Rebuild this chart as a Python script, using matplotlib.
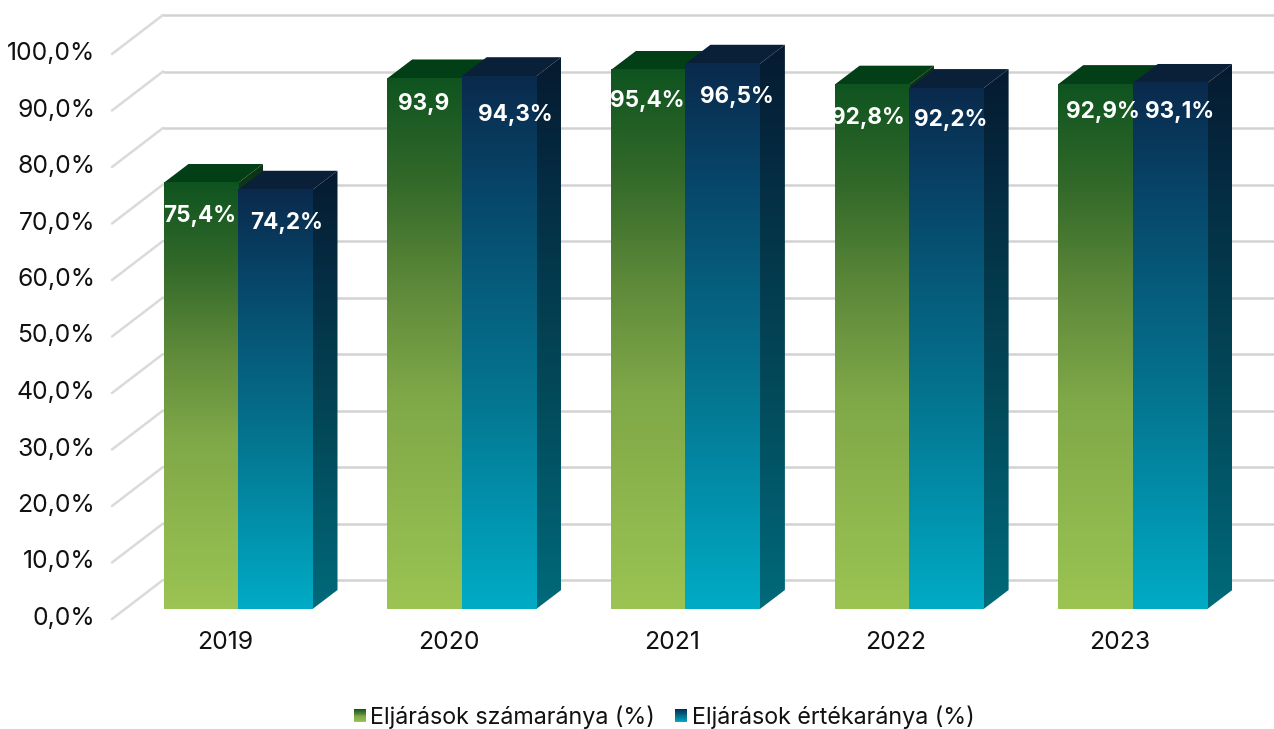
import matplotlib
matplotlib.use("Agg")
import matplotlib.pyplot as plt
import numpy as np
from matplotlib.colors import LinearSegmentedColormap
from matplotlib.patches import Polygon, Rectangle
from matplotlib.legend_handler import HandlerBase
from matplotlib.transforms import ScaledTranslation

years = ["2019", "2020", "2021", "2022", "2023"]
szamarany = [75.4, 93.9, 95.4, 92.8, 92.9]
ertekarany = [74.2, 94.3, 96.5, 92.2, 93.1]
szam_labels = ["75,4%", "93,9", "95,4%", "92,8%", "92,9%"]
ertek_labels = ["74,2%", "94,3%", "96,5%", "92,2%", "93,1%"]
y_ticks = [0, 10, 20, 30, 40, 50, 60, 70, 80, 90, 100]
y_ticklabels = ["0,0%", "10,0%", "20,0%", "30,0%", "40,0%", "50,0%",
                "60,0%", "70,0%", "80,0%", "90,0%", "100,0%"]
series_names = ["Eljárások számaránya (%)", "Eljárások értékaránya (%)"]

# label offsets from bar-top centre, in pixels (x right, y down)
szam_off = [(-1, 33), (-1, 26), (-1, 31), (-4, 33), (7, 28)]
ertek_off = [(11, 33), (16, 39), (14, 33), (4, 32), (10, 29)]

plt.rcParams["font.family"] = ["Inter", "DejaVu Sans"]
W, H, DPI = 1274, 729, 100
PX = 72 / DPI

# scales: pixel geometry of the plot
Y0, UNIT = 609, 5.65        # pixel row of value 0 (front plane), px per value
X0, CAT = 238, 223.7        # pixel col of first category, px per category
L, B = 112, 619             # axes left / bottom in pixels
BAR_W = 74.5 / CAT
BAR_DX, BAR_DY = 25 / CAT, 19 / UNIT
WALL_DX, WALL_DY = 51 / CAT, 39 / UNIT

fig = plt.figure(figsize=(W / DPI, H / DPI), dpi=DPI, facecolor="white")
ax = fig.add_axes([L / W, (H - B) / H, (W - L) / W, B / H])
ax.set_xlim((L - X0) / CAT, (W - X0) / CAT)
ax.set_ylim((Y0 - B) / UNIT, Y0 / UNIT)
ax.set_facecolor("none")
for s in ax.spines.values():
    s.set_visible(False)

green = LinearSegmentedColormap.from_list("g", [(0, "#9BC453"), (.4, "#7FA848"), (.6, "#5F8A3A"),
                                                 (.8, "#346A2A"), (1, "#0F5420")])
blue = LinearSegmentedColormap.from_list("b", [(0, "#00ABC6"), (.4, "#047590"), (.6, "#065D7C"),
                                                (.8, "#074468"), (1, "#0A2A4C")])
grad = np.linspace(1, 0, 256).reshape(-1, 1)


def shaded(cmap, f):
    return LinearSegmentedColormap.from_list("s", [tuple(c * f for c in cmap(t)[:3]) for t in np.linspace(0, 1, 32)])


def bar3d(x0, v, cmap, topcolor, z):
    x1 = x0 + BAR_W
    ax.imshow(grad, cmap=cmap, vmin=0, vmax=1, extent=(x0, x1, 0, v), aspect="auto", zorder=z,
              interpolation="bilinear")
    side = Polygon([(x1, 0), (x1 + BAR_DX, BAR_DY), (x1 + BAR_DX, v + BAR_DY), (x1, v)],
                   transform=ax.transData, fc="none", ec="none")
    ax.add_patch(side)
    im = ax.imshow(grad, cmap=shaded(cmap, .62), vmin=0, vmax=1, extent=(x1, x1 + BAR_DX, 0, v + BAR_DY),
                   aspect="auto", zorder=z - .1, interpolation="bilinear")
    im.set_clip_path(side)
    ax.add_patch(Polygon([(x0, v), (x0 + BAR_DX, v + BAR_DY), (x1 + BAR_DX, v + BAR_DY), (x1, v)],
                         fc=topcolor, ec="none", zorder=z - .1))


# grid: oblique floor-to-wall lines + back wall lines
for v in y_ticks:
    back = v + (Y0 - 580) / UNIT
    front = back - WALL_DY
    wall_x = (163 - X0) / CAT
    ax.plot([wall_x - WALL_DX, wall_x], [front, back], color="#DADADA", lw=1.8, zorder=1,
            solid_capstyle="round", clip_on=False)
    ax.plot([wall_x, ax.get_xlim()[1]], [back, back], color="#D2D2D2", lw=1.8, zorder=1,
            solid_capstyle="butt", clip_on=False)

for i in range(len(years)):
    bar3d(i - BAR_W, szamarany[i], green, "#033F16", 3)
    bar3d(i, ertekarany[i], blue, "#0A2039", 4)
    for xc, v, txt, off in ((i - BAR_W / 2, szamarany[i], szam_labels[i], szam_off[i]),
                            (i + BAR_W / 2, ertekarany[i], ertek_labels[i], ertek_off[i])):
        ax.annotate(txt, (xc, v), xytext=(off[0] * PX, -off[1] * PX), textcoords="offset points",
                    ha="center", va="center", color="white", fontweight="bold", fontsize=16.2, zorder=6)

ax.set_xlim((L - X0) / CAT, (W - X0) / CAT)
ax.set_ylim((Y0 - B) / UNIT, Y0 / UNIT)

ax.set_yticks(y_ticks, y_ticklabels)
ax.set_xticks(range(len(years)), years)
ax.tick_params(axis="both", length=0, labelsize=17.8, labelcolor="#111111")
ax.tick_params(axis="y", pad=17 * PX)
ax.tick_params(axis="x", pad=12 * PX)
ytrans = ScaledTranslation(0, -7 * PX / 72, fig.dpi_scale_trans)
for t in ax.get_yticklabels():
    t.set_transform(t.get_transform() + ytrans)
xtrans = ScaledTranslation(-13 * PX / 72, 0, fig.dpi_scale_trans)
for t in ax.get_xticklabels():
    t.set_transform(t.get_transform() + xtrans)


class GradHandler(HandlerBase):
    def __init__(self, cmap):
        super().__init__()
        self.cmap = cmap

    def create_artists(self, legend, orig, xd, yd, w, h, fs, trans):
        n = 16
        out = []
        for k in range(n):
            out.append(Rectangle((xd * -1, -yd + h * k / n), w, h / n + .05, fc=self.cmap(k / (n - 1)),
                                 ec="none", transform=trans))
        return out


h1, h2 = Rectangle((0, 0), 1, 1), Rectangle((0, 0), 1, 1)
fig.legend([h1, h2], series_names, handler_map={h1: GradHandler(green), h2: GradHandler(blue)},
           loc="center", bbox_to_anchor=(664 / W, 1 - 717 / H), ncol=2, frameon=False,
           fontsize=16.8, labelcolor="#111111", handlelength=.52, handleheight=.52,
           handletextpad=.2, columnspacing=.85, borderpad=0, borderaxespad=0)

fig.savefig("out.png", dpi=DPI, facecolor="white")
